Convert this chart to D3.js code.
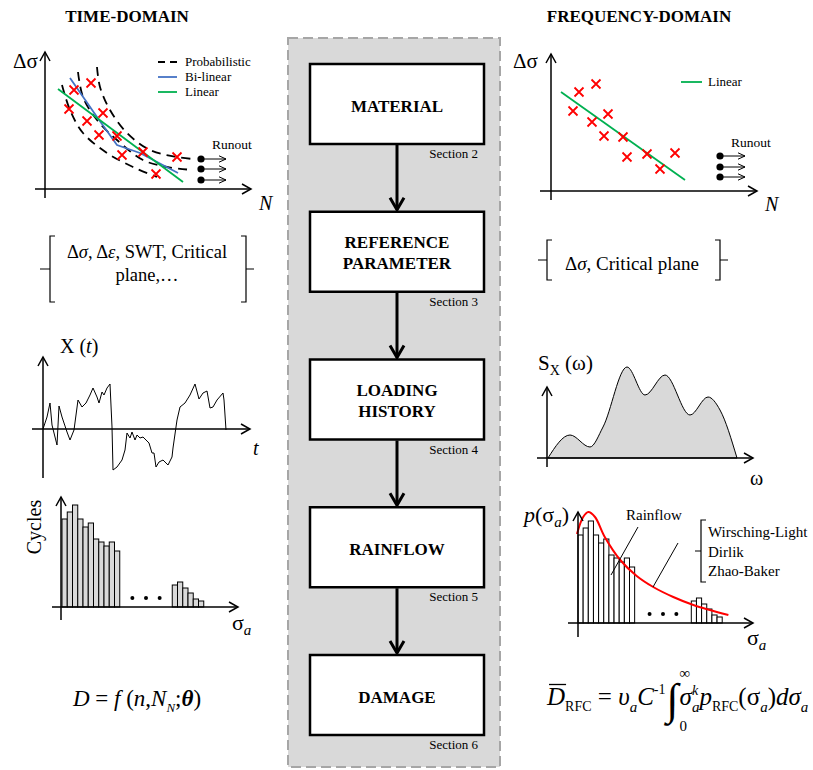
<!DOCTYPE html>
<html>
<head>
<meta charset="utf-8">
<title>Fatigue damage: time-domain vs frequency-domain</title>
<script src="https://d3js.org/d3.v7.min.js"></script>
<style>
  body { margin: 0; background: #fff; }
  text { font-family: "Liberation Serif", "Times New Roman", serif; fill: #000; }
</style>
</head>
<body>
<svg id="chart" width="813" height="770"></svg>
<script>
// ---- data ----
var steps = [["MATERIAL"], ["REFERENCE", "PARAMETER"], ["LOADING", "HISTORY"], ["RAINFLOW"], ["DAMAGE"]];
var sections = ["Section 2", "Section 3", "Section 4", "Section 5", "Section 6"];

// S-N test results, time domain (arbitrary log N, log Δσ units)
var tdFailures = [[46,106],[29,99],[24,80],[58,76],[42,68],[54,54],[72,53],[98,37],[77,34],[132,32],[111,15]];
var tdBilinear = [[25,111],[52,72],[72,44],[95,36],[133,16]];
var tdLinear = [[13,100],[138,7]];
var tdProbUpper = [[52,122],[55,102],[65,79],[82,56],[105,39],[132,32],[148,30]];
var tdProbMid = [[33,117],[38,92],[52,69],[72,49],[98,29],[122,22],[148,19]];
var tdProbLower = [[17,104],[25,79],[38,56],[62,36],[88,22],[112,12]];
var tdRunouts = [30, 20, 9];
var tdLegend = ["Probabilistic", "Bi-linear", "Linear"];

// S-N test results, frequency domain
var fdFailures = [[45,107],[28,99],[22,80],[57,77],[41,69],[53,55],[72,54],[96,37],[76,34],[124,38],[109,22]];
var fdLinear = [[10,99],[134,11]];
var fdRunouts = [35, 24, 14];

// damage parameters
var tdParams = ["Δσ, Δε, SWT, Critical", "plane,…"];
var fdParams = ["Δσ, Critical plane"];

// loading history X(t)
var loadHistory = [[0,0],[4,12],[7,26],[9,4],[12,-8],[14,-16],[16,23],[19,12],[20,9],[24,-3],[27,-11],[31,-1],
  [35,29],[39,22],[43,26],[47,34],[50,41],[54,32],[56,26],[59,37],[61,34],[64,41],[67,45],[69,2],[70,-41],
  [74,-38],[79,-31],[82,-21],[84,-4],[87,-9],[89,-3],[92,-11],[94,-6],[97,-9],[100,-8],[104,-12],[106,-14],
  [109,-24],[111,-24],[113,-38],[116,-33],[120,-31],[125,-36],[129,-28],[130,-19],[134,9],[137,22],[142,26],
  [147,34],[152,45],[156,30],[160,36],[164,38],[167,21],[170,22],[174,29],[180,36],[181,29],[183,-1]];

// power spectral density S_X(ω)
var psdOmega = [1, 23, 43, 56, 80, 98, 118, 143, 161, 173, 190];
var psdValues = [0, 23, 11, 31, 91, 63, 83, 43, 61, 48, 0];

// rainflow histogram (cycles per amplitude bin)
var cycleCounts = [88, 95, 102, 88, 80, 84, 68, 65, 61, 65, 56];
var tailCounts = [22, 25, 19, 14, 8, 6];
// spectral-method pdf p(σa), bins vs density
var pdfBins = [-0.2, 1.0, 2.0, 3.3, 5.2, 8.2, 11.4, 14.6, 18.5, 22.4, 29.2];
var pdfValues = [89, 106, 111, 106, 86, 63, 47, 36, 26, 18, 8];
var spectralMethods = ["Wirsching-Light", "Dirlik", "Zhao-Baker"];

// ---- helpers ----
var svg = d3.select("#chart");
var RED = "#ff0000", BLUE = "#4472c4", GREEN = "#00b050";
var SP = "\u00a0";

function arrowLine(g, x1, y1, x2, y2, w, len, half) {
  g.append("line").attr("x1", x1).attr("y1", y1).attr("x2", x2).attr("y2", y2)
    .attr("stroke", "#000").attr("stroke-width", w);
  var a = Math.atan2(y2 - y1, x2 - x1);
  var p = function(s) {
    return [x2 - len * Math.cos(a) + s * half * Math.sin(a), y2 - len * Math.sin(a) - s * half * Math.cos(a)];
  };
  var l = p(1), r = p(-1);
  g.append("path").attr("d", "M" + l + "L" + x2 + "," + y2 + "L" + r)
    .attr("fill", "none").attr("stroke", "#000").attr("stroke-width", w);
}

function greekItalic(el, str) {
  // lowercase greek letters italic, rest upright
  str.split(/([α-ω])/).forEach(function(s) {
    if (!s) return;
    var t = el.append("tspan").text(s);
    if (/[α-ω]/.test(s)) t.attr("font-style", "italic");
  });
}

function mathRun(g, parts) {
  var x = 0;
  parts.forEach(function(p) {
    x += p.dx || 0;
    var el = g.append("text").attr("x", x).attr("y", p.dy || 0).attr("font-size", p.s).text(p.t);
    if (p.it) el.attr("font-style", "italic");
    if (p.b) el.attr("font-weight", "bold");
    var w = el.node().getComputedTextLength();
    if (p.over) g.append("line").attr("x1", x + 2).attr("x2", x + w + 1)
      .attr("y1", -p.s * 0.82).attr("y2", -p.s * 0.82).attr("stroke", "#000").attr("stroke-width", 1.3);
    if (!p.keep) x += w;
  });
  return x;
}

function brace(g, x, y1, y2, dir, tick, out) {
  // dir = 1 opens to the right (left brace), -1 opens to the left
  var ym = (y1 + y2) / 2;
  g.append("path").attr("d", "M" + (x + dir * tick) + "," + y1 + "L" + x + "," + y1 + "L" + x + "," + y2 + "L" + (x + dir * tick) + "," + y2 +
      "M" + x + "," + ym + "L" + (x - dir * out) + "," + ym)
    .attr("fill", "none").attr("stroke", "#000").attr("stroke-width", 1.2);
}

function crosses(g, data, xs, ys) {
  g.selectAll(null).data(data).enter().append("path")
    .attr("d", function(d) {
      var x = xs(d[0]), y = ys(d[1]), h = 4.5;
      return "M" + (x - h) + "," + (y - h) + "L" + (x + h) + "," + (y + h) + "M" + (x + h) + "," + (y - h) + "L" + (x - h) + "," + (y + h);
    })
    .attr("stroke", RED).attr("stroke-width", 1.8).attr("fill", "none");
}

function runouts(g, levels, x0, xs, ys) {
  levels.forEach(function(v) {
    g.append("circle").attr("cx", xs(x0)).attr("cy", ys(v)).attr("r", 3.6).attr("fill", "#000");
    arrowLine(g, xs(x0), ys(v), xs(x0) + 25, ys(v), 1, 7, 3.2);
  });
}

// ---- titles ----
svg.append("text").attr("x", 127).attr("y", 22).attr("text-anchor", "middle")
  .attr("font-size", 17).attr("font-weight", "bold").text("TIME-DOMAIN");
svg.append("text").attr("x", 639).attr("y", 22).attr("text-anchor", "middle")
  .attr("font-size", 17).attr("font-weight", "bold").text("FREQUENCY-DOMAIN");

// ---- centre flow chart ----
var flow = svg.append("g");
flow.append("rect").attr("x", 288).attr("y", 38).attr("width", 212).attr("height", 729)
  .attr("fill", "#d9d9d9").attr("stroke", "#a6a6a6").attr("stroke-width", 2).attr("stroke-dasharray", "10,5");

var boxY = d3.scaleLinear().domain([0, steps.length - 1]).range([64, 655]);
var boxH = 80, cx = 397;
steps.forEach(function(lines, i) {
  var top = boxY(i);
  flow.append("rect").attr("x", 310).attr("y", top).attr("width", 174).attr("height", boxH)
    .attr("fill", "#fff").attr("stroke", "#000").attr("stroke-width", 2.5);
  lines.forEach(function(s, j) {
    var y = lines.length === 1 ? top + 48 : top + 36 + j * 21;
    flow.append("text").attr("x", cx).attr("y", y).attr("text-anchor", "middle")
      .attr("font-size", 17).attr("font-weight", "bold").text(s);
  });
  flow.append("text").attr("x", 478).attr("y", top + boxH + 14).attr("text-anchor", "end")
    .attr("font-size", 13).text(sections[i]);
  if (i < steps.length - 1) {
    arrowLine(flow, cx, top + boxH + 1, cx, boxY(i + 1) - 2, 3, 12, 7);
  }
});

// ---- time domain S-N curve ----
var tdX = d3.scaleLinear().domain([0, 210]).range([45, 255]);
var tdY = d3.scaleLinear().domain([0, 140]).range([189, 49]);
var g1 = svg.append("g");
var smooth = d3.line().x(function(d) { return tdX(d[0]); }).y(function(d) { return tdY(d[1]); }).curve(d3.curveCatmullRom);
[tdProbUpper, tdProbMid, tdProbLower].forEach(function(c) {
  g1.append("path").attr("d", smooth(c)).attr("fill", "none").attr("stroke", "#000")
    .attr("stroke-width", 1.8).attr("stroke-dasharray", "9,6");
});
var straight = d3.line().x(function(d) { return tdX(d[0]); }).y(function(d) { return tdY(d[1]); });
g1.append("path").attr("d", straight(tdBilinear)).attr("fill", "none").attr("stroke", BLUE).attr("stroke-width", 1.8);
g1.append("path").attr("d", straight(tdLinear)).attr("fill", "none").attr("stroke", GREEN).attr("stroke-width", 1.8);
crosses(g1, tdFailures, tdX, tdY);
runouts(g1, tdRunouts, 156, tdX, tdY);
g1.append("text").attr("x", 212).attr("y", 149).attr("font-size", 13.5).text("Runout");
arrowLine(g1, tdX(0), 198, tdX(0), 52, 1.5, 9, 5);
arrowLine(g1, 35, tdY(0), 251, tdY(0), 1.5, 9, 5);
g1.append("text").attr("x", 13).attr("y", 68).attr("font-size", 21).text("Δσ");
g1.append("text").attr("x", 259).attr("y", 210).attr("font-size", 20).attr("font-style", "italic").text("N");
var legColors = ["#000", BLUE, GREEN];
tdLegend.forEach(function(s, i) {
  var y = 62 + i * 15;
  g1.append("line").attr("x1", 158).attr("x2", 177).attr("y1", y).attr("y2", y)
    .attr("stroke", legColors[i]).attr("stroke-width", 1.8).attr("stroke-dasharray", i === 0 ? "7,5" : null);
  g1.append("text").attr("x", 185).attr("y", y + 4).attr("font-size", 13).text(s);
});

// ---- frequency domain S-N curve ----
var fdX = d3.scaleLinear().domain([0, 210]).range([551, 761]);
var fdY = d3.scaleLinear().domain([0, 140]).range([191, 51]);
var g2 = svg.append("g");
var fdLine = d3.line().x(function(d) { return fdX(d[0]); }).y(function(d) { return fdY(d[1]); });
g2.append("path").attr("d", fdLine(fdLinear)).attr("fill", "none").attr("stroke", GREEN).attr("stroke-width", 1.8);
crosses(g2, fdFailures, fdX, fdY);
runouts(g2, fdRunouts, 169, fdX, fdY);
g2.append("text").attr("x", 731).attr("y", 147).attr("font-size", 13.5).text("Runout");
arrowLine(g2, fdX(0), 200, fdX(0), 54, 1.5, 9, 5);
arrowLine(g2, 540, fdY(0), 757, fdY(0), 1.5, 9, 5);
g2.append("text").attr("x", 513).attr("y", 68).attr("font-size", 21).text("Δσ");
g2.append("text").attr("x", 765).attr("y", 211).attr("font-size", 20).attr("font-style", "italic").text("N");
g2.append("line").attr("x1", 681).attr("x2", 702).attr("y1", 82).attr("y2", 82).attr("stroke", GREEN).attr("stroke-width", 1.8);
g2.append("text").attr("x", 708).attr("y", 86).attr("font-size", 13).text("Linear");

// ---- damage parameter braces ----
var g3 = svg.append("g");
tdParams.forEach(function(s, i) {
  greekItalic(g3.append("text").attr("x", 147).attr("y", 258 + i * 23).attr("text-anchor", "middle").attr("font-size", 18.5), s);
});
brace(g3, 50, 236, 302, 1, 5, 10);
brace(g3, 246, 236, 302, -1, 5, 8);
fdParams.forEach(function(s) {
  greekItalic(g3.append("text").attr("x", 565).attr("y", 270).attr("font-size", 19), s);
});
brace(g3, 547, 240, 280, 1, 5, 9);
brace(g3, 720, 240, 280, -1, 5, 8);

// ---- loading history ----
var sgX = d3.scaleLinear().domain([0, 210]).range([43, 253]);
var sgY = d3.scaleLinear().domain([-50, 75]).range([479, 354]);
var g4 = svg.append("g");
g4.append("path").attr("d", d3.line().x(function(d) { return sgX(d[0]); }).y(function(d) { return sgY(d[1]); })(loadHistory))
  .attr("fill", "none").attr("stroke", "#000").attr("stroke-width", 1);
arrowLine(g4, sgX(0), 478, sgX(0), 357, 1.5, 9, 5);
arrowLine(g4, 32, sgY(0), 250, sgY(0), 1.5, 9, 5);
var xt = g4.append("text").attr("x", 60).attr("y", 353).attr("font-size", 20);
xt.append("tspan").text("X (");
xt.append("tspan").attr("font-style", "italic").text("t");
xt.append("tspan").text(")");
g4.append("text").attr("x", 253).attr("y", 455).attr("font-size", 20).attr("font-style", "italic").text("t");

// ---- PSD ----
var psX = d3.scaleLinear().domain([0, 210]).range([547, 757]);
var psY = d3.scaleLinear().domain([0, 100]).range([458, 358]);
var g5 = svg.append("g");
var psd = psdOmega.map(function(w, i) { return [w, psdValues[i]]; });
g5.append("path").attr("d", d3.area().x(function(d) { return psX(d[0]); }).y0(psY(0)).y1(function(d) { return psY(d[1]); })
    .curve(d3.curveMonotoneX)(psd))
  .attr("fill", "#d9d9d9").attr("stroke", "#000").attr("stroke-width", 1);
arrowLine(g5, psX(0), 467, psX(0), 387, 1.5, 9, 5);
arrowLine(g5, 537, psY(0), 753, psY(0), 1.5, 9, 5);
var sx = g5.append("text").attr("x", 538).attr("y", 370).attr("font-size", 21);
sx.append("tspan").text("S");
sx.append("tspan").attr("font-size", 14).attr("dy", 5).text("X");
sx.append("tspan").attr("dy", -5).text(SP + "(ω)");
g5.append("text").attr("x", 750).attr("y", 485).attr("font-size", 20).text("ω");

// ---- histograms ----
function histogram(g, x0, y0, binW, tailStart, fill) {
  var hx = d3.scaleLinear().domain([0, 1]).range([x0, x0 + binW]);
  var hy = d3.scaleLinear().domain([0, 1]).range([y0, y0 - 1]);
  var bars = cycleCounts.map(function(c, i) { return [i, c]; })
    .concat(tailCounts.map(function(c, i) { return [tailStart + i, c]; }));
  g.selectAll(null).data(bars).enter().append("rect")
    .attr("x", function(d) { return hx(d[0]); }).attr("width", binW)
    .attr("y", function(d) { return hy(d[1]); }).attr("height", function(d) { return hy(0) - hy(d[1]); })
    .attr("fill", fill).attr("stroke", "#000").attr("stroke-width", 1);
  var mid = (cycleCounts.length + tailStart) / 2;
  [-2.6, 0, 2.6].forEach(function(o) {
    g.append("circle").attr("cx", hx(mid + o)).attr("cy", y0 - 9).attr("r", 2).attr("fill", "#000");
  });
  return { x: hx, y: hy };
}

var g6 = svg.append("g");
histogram(g6, 62, 607, 5.25, 21, "#d9d9d9");
arrowLine(g6, 61, 620, 61, 497, 1.5, 9, 5);
arrowLine(g6, 52, 607, 238, 607, 1.5, 9, 5);
g6.append("text").attr("transform", "translate(41,527) rotate(-90)").attr("text-anchor", "middle")
  .attr("font-size", 20).text("Cycles");
var sa1 = g6.append("text").attr("x", 232).attr("y", 630).attr("font-size", 22);
sa1.append("tspan").text("σ");
sa1.append("tspan").attr("font-style", "italic").attr("font-size", 15).attr("dy", 5).text("a");

var g7 = svg.append("g");
var hs = histogram(g7, 578, 623, 5.15, 22, "#fff");
g7.append("path").attr("d", d3.line().x(function(d) { return hs.x(d[0]); }).y(function(d) { return hs.y(d[1]); })
    .curve(d3.curveCatmullRom)(pdfBins.map(function(b, i) { return [b, pdfValues[i]]; })))
  .attr("fill", "none").attr("stroke", RED).attr("stroke-width", 2);
arrowLine(g7, 578, 637, 578, 512, 1.5, 9, 5);
arrowLine(g7, 568, 623, 753, 623, 1.5, 9, 5);
var pl = g7.append("text").attr("x", 524).attr("y", 522).attr("font-size", 22);
pl.append("tspan").attr("font-style", "italic").text("p");
pl.append("tspan").text("(σ");
pl.append("tspan").attr("font-style", "italic").attr("font-size", 15).attr("dy", 5).text("a");
pl.append("tspan").attr("dy", -5).text(")");
var sa2 = g7.append("text").attr("x", 747).attr("y", 645).attr("font-size", 22);
sa2.append("tspan").text("σ");
sa2.append("tspan").attr("font-style", "italic").attr("font-size", 15).attr("dy", 5).text("a");
g7.append("text").attr("x", 626).attr("y", 520).attr("font-size", 15).text("Rainflow");
g7.append("line").attr("x1", 638).attr("y1", 527).attr("x2", 611).attr("y2", 575).attr("stroke", "#000").attr("stroke-width", 1);
g7.append("line").attr("x1", 678).attr("y1", 543).attr("x2", 653).attr("y2", 587).attr("stroke", "#000").attr("stroke-width", 1);
brace(g7, 701, 520, 582, 1, 5, 6);
spectralMethods.forEach(function(s, i) {
  g7.append("text").attr("x", 708).attr("y", 537 + i * 19.5).attr("font-size", 15).text(s);
});

// ---- damage formulas ----
var f1 = svg.append("g");
var w1 = mathRun(f1, [
  { t: "D", it: true, s: 23 }, { t: SP + "=" + SP, s: 23 }, { t: "f", it: true, s: 23 }, { t: SP + "(", s: 23 },
  { t: "n", it: true, s: 23 }, { t: ",", s: 23 }, { t: "N", it: true, s: 23 },
  { t: "N", it: true, s: 13, dy: 6 }, { t: ";", s: 23 }, { t: "θ", it: true, b: true, s: 23 }, { t: ")", s: 23 }
]);
f1.attr("transform", "translate(" + (137 - w1 / 2) + ",706)");

var f2 = svg.append("g").attr("transform", "translate(547,705)");
mathRun(f2, [
  { t: "D", it: true, s: 25, over: true }, { t: "RFC", s: 14, dy: 6 }, { t: SP + "=" + SP, s: 25 },
  { t: "υ", it: true, s: 25 }, { t: "a", it: true, s: 15, dy: 7 }, { t: "C", it: true, s: 25 },
  { t: "-1", s: 14, dy: -11 }, { t: "∫", s: 44, dy: 9, dx: 1 },
  { t: "∞", s: 15, dy: -27, dx: 1, keep: true }, { t: "0", s: 15, dy: 26, keep: true },
  { t: "σ", it: true, s: 25 }, { t: "k", it: true, s: 14, dy: -10, keep: true }, { t: "a", it: true, s: 15, dy: 7 },
  { t: "p", it: true, s: 25 }, { t: "RFC", s: 14, dy: 6 }, { t: "(σ", s: 25 }, { t: "a", it: true, s: 15, dy: 7 },
  { t: ")", s: 25 }, { t: "d", it: true, s: 25 }, { t: "σ", it: true, s: 25 }, { t: "a", it: true, s: 15, dy: 7 }
]);
</script>
</body>
</html>
